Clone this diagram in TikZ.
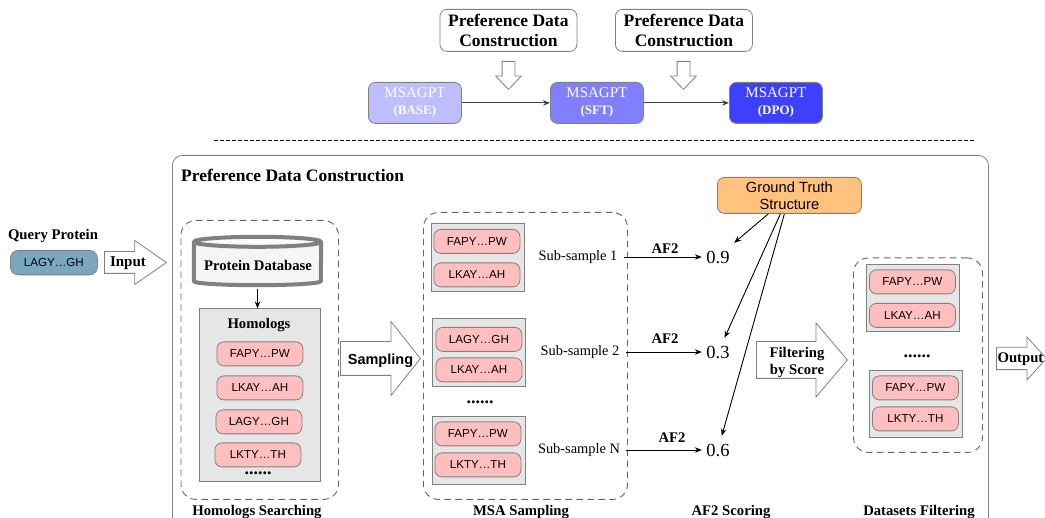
\documentclass[tikz,border=0pt]{standalone}
\usepackage{fontspec}
\setmainfont{Liberation Serif}
\newfontfamily\hv{Liberation Sans}
\usepackage{tikz}
\usetikzlibrary{arrows.meta,shapes.arrows}
\definecolor{baseblue}{HTML}{BDBDFF}
\definecolor{sftblue}{HTML}{8080FF}
\definecolor{dpoblue}{HTML}{3F3FFF}
\definecolor{seqpink}{HTML}{FFBFBF}
\definecolor{panelgray}{HTML}{E6E6E6}
\definecolor{edgegray}{HTML}{808080}
\definecolor{queryblue}{HTML}{7BA6BF}
\definecolor{truthorange}{HTML}{FFC27F}

\begin{document}
\begin{tikzpicture}[
    % styles
    x=1pt,y=-1pt,
    >={Stealth[length=7pt,width=5.5pt]},
    every node/.style={inner sep=0pt},
    box/.style={draw=edgegray,line width=0.8pt,rounded corners=7pt,anchor=north west},
    seq/.style={box,fill=seqpink,minimum width=86pt,minimum height=24pt,
        font=\hv\fontsize{11.6}{14}\selectfont},
    panel/.style={draw=edgegray,fill=panelgray,anchor=north west,line width=0.9pt},
    model/.style={box,minimum width=93pt,minimum height=41pt,align=center,text=white,
        font=\fontsize{15}{16}\selectfont},
    pref/.style={box,fill=white,minimum width=137pt,minimum height=42pt,align=center,
        font=\bfseries\fontsize{17.5}{20.5}\selectfont},
    group/.style={draw=black!60,line width=0.9pt,dash pattern=on 6.5pt off 4.5pt,rounded corners=15pt,anchor=north west},
    bigarrow/.style n args={3}{single arrow,draw=edgegray,line width=0.8pt,fill=white,anchor=tail,
        inner sep=#1/2,single arrow head extend={(#2-#1)/2},
        single arrow tip angle={2*atan(#2/(2*#3))}},
    bold/.style={font=\bfseries\fontsize{14.7}{17}\selectfont,align=center},
    sub/.style={font=\fontsize{14.4}{16}\selectfont},
    score/.style={font=\fontsize{18.5}{22}\selectfont,minimum width=32pt,minimum height=28pt},
    dots/.style={font=\bfseries\fontsize{18}{18}\selectfont},
    link/.style={->,black,line width=0.9pt},
    drum/.style={draw=edgegray,line width=4pt,line join=round}
]
    \useasboundingbox (0,0) rectangle (1045,518);
    \clip (0,0) rectangle (1045,518);

    % --- 1. top row ---
    \node[pref] (P-1) at (439.5,9) {Preference Data\\Construction};
    \node[pref] (P-2) at (615,9) {Preference Data\\Construction};
    \node[bigarrow={12pt}{25pt}{13pt},shape border rotate=270,minimum height=28pt] (D-1) at (508.5,61) {};
    \node[bigarrow={12pt}{25pt}{13pt},shape border rotate=270,minimum height=28pt] (D-2) at (683.5,61) {};
    \node[model,fill=baseblue] (M-1) at (368,82) {MSAGPT\\[1pt]{\bfseries\fontsize{13}{14}\selectfont(BASE)}};
    \node[model,fill=sftblue] (M-2) at (550,82) {MSAGPT\\[1pt]{\bfseries\fontsize{13}{14}\selectfont(SFT)}};
    \node[model,fill=dpoblue] (M-3) at (729,82) {MSAGPT\\[1pt]{\bfseries\fontsize{13}{14}\selectfont(DPO)}};
    \draw[->,black!75,line width=1pt] (M-1) -- (M-2);
    \draw[->,black!75,line width=1pt] (M-2) -- (M-3);
    \coordinate (rule-l) at (214,140);
    \coordinate (rule-r) at (975,140);
    \draw[dash pattern=on 3.5pt off 2.5pt,line width=0.6pt] (rule-l) -- (rule-r);

    % --- 2. frame and query ---
    \node[box,rounded corners=10pt,minimum width=816pt,minimum height=420pt] (frame) at (172,155) {};
    \node[anchor=west,font=\bfseries\fontsize{17.5}{18}\selectfont] (title) at (181,175) {Preference Data Construction};
    \node[bold] (query) at (53,236) {Query Protein};
    \node[box,fill=queryblue,rounded corners=8pt,minimum width=87pt,minimum height=24.5pt,
        font=\hv\fontsize{11.6}{14}\selectfont] (Q) at (10,250) {LAGY…GH};
    \node[bigarrow={21pt}{43pt}{31pt},minimum height=62pt] (A-in) at (104,262.5) {};
    \node[font=\bfseries\fontsize{15}{16}\selectfont] (input) at (128,263.5) {Input};

    % --- 3. homologs searching ---
    \node[group,minimum width=157.5pt,minimum height=279pt] (G-1) at (180.5,220) {};
    \node[minimum width=127pt,minimum height=39pt] (db) at (257.5,261.5) {};
    \draw[drum,fill=black!4] (db.north west) -- (db.south west)
        arc[x radius=63.5pt,y radius=4pt,start angle=180,end angle=360] -- (db.north east);
    \draw[drum,fill=black!2] (db.north) ellipse [x radius=63.5pt,y radius=5pt];
    \node[font=\bfseries\fontsize{14.7}{16}\selectfont] (db-text) at (258,265) {Protein Database};
    \node[panel,minimum width=121pt,minimum height=172.5pt] (H) at (199,308.5) {};
    \draw[link] ([yshift=-8pt]db.south) -- (db.south |- H.north);
    \node[bold] (hom) at (259,325.5) {Homologs};
    \foreach \name/\x/\y/\seqtext in {1/216.5/341.5/FAPY…PW,2/216.5/375.5/LKAY…AH,3/215.5/409.5/LAGY…GH,4/214.5/442.5/LKTY…TH}
        \node[seq] (H-\name) at (\x,\y) {\seqtext};
    \node[dots] (H-dots) at (258,473) {......};
    \node[bigarrow={33pt}{73pt}{29pt},minimum height=80pt] (A-samp) at (340,358.5) {};
    \node[font=\hv\bfseries\fontsize{14.5}{16}\selectfont] (samp) at (380.5,360.5) {Sampling};
    \node[bold] (L-1) at (257,512.5) {Homologs Searching};

    % --- 4. msa sampling ---
    \node[group,minimum width=204pt,minimum height=287pt] (G-2) at (423,212) {};
    \foreach \name/\x/\y in {1/430.5/223.5,2/432/318.5,3/431.5/416.5}
        \node[panel,minimum width=93pt,minimum height=67.5pt] (S-\name) at (\x,\y) {};
    \foreach \name/\x/\y/\seqtext in {1/433.5/229/FAPY…PW,2/433.5/262.5/LKAY…AH,3/435.5/327/LAGY…GH,4/435.5/357.5/LKAY…AH,5/434.5/421.5/FAPY…PW,6/434.5/452.5/LKTY…TH}
        \node[seq] (T-\name) at (\x,\y) {\seqtext};
    \node[dots] (S-dots) at (480,402) {......};
    \node[bold] (L-2) at (521,512.5) {MSA Sampling};

    % --- 5. scoring ---
    \foreach \name/\x/\y/\subtext/\val in {1/578/257/1/0.9,2/580/352/2/0.3,3/579/450/N/0.6} {
        \node[sub] (R-\name) at (\x,\y) {Sub-sample \subtext};
        \node[score] (V-\name) at (718,\y) {\val};
        \draw[link] (R-\name.east) ++(6pt,0) -- (V-\name.west);
    }
    \node[bold] (F-1) at (665,249) {AF2};
    \node[bold] (F-2) at (665,339) {AF2};
    \node[bold] (F-3) at (672,438) {AF2};
    \node[box,fill=truthorange,minimum width=144pt,minimum height=36pt,align=center,
        font=\hv\fontsize{14.7}{17}\selectfont] (truth) at (717,177) {Ground Truth\\Structure};
    \draw[link] ([xshift=-21pt]truth.south) -- (V-1.north east);
    \draw[link] ([xshift=-9pt]truth.south) -- (V-2.65);
    \draw[link] ([xshift=-5pt]truth.south) -- (V-3.75);
    \node[bold] (L-3) at (731,512.5) {AF2 Scoring};

    % --- 6. filtering ---
    \node[bigarrow={36pt}{73pt}{31pt},minimum height=91pt] (A-filt) at (756,360) {};
    \node[bold] (filt) at (797,362) {Filtering\\by Score};
    \node[group,minimum width=129pt,minimum height=194.5pt] (G-3) at (853,257.5) {};
    \foreach \name/\x/\y in {1/866/264,2/869/370}
        \node[panel,minimum width=93pt,minimum height=67pt] (K-\name) at (\x,\y) {};
    \foreach \name/\x/\y/\seqtext in {1/869/269.5/FAPY…PW,2/869/303/LKAY…AH,3/872/375.5/FAPY…PW,4/872/406.5/LKTY…TH}
        \node[seq] (W-\name) at (\x,\y) {\seqtext};
    \node[dots] (K-dots) at (917,356) {......};
    \node[bold] (L-4) at (919,512.5) {Datasets Filtering};
    \node[bigarrow={21.5pt}{42pt}{19pt},minimum height=50pt] (A-out) at (996,358.5) {};
    \node[font=\bfseries\fontsize{14.7}{16}\selectfont] (out) at (1020.5,359.5) {Output};

\end{tikzpicture}
\end{document}
